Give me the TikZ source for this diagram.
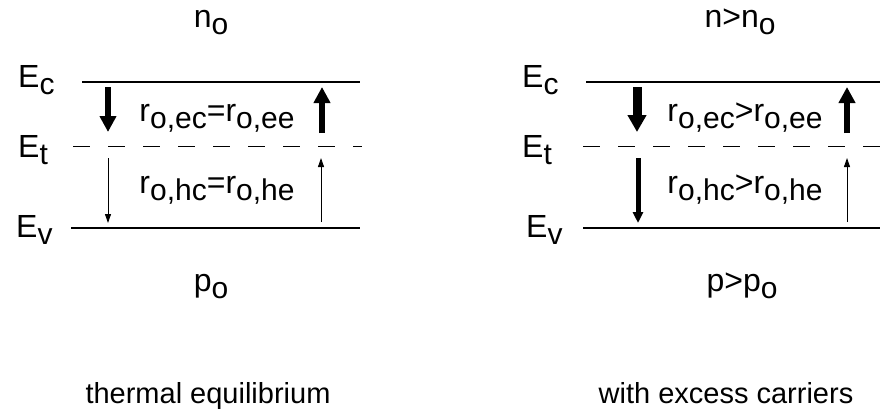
\documentclass[tikz,border=0pt]{standalone}
\usepackage{fontspec}
\setmainfont{Liberation Sans}
\usetikzlibrary{arrows.meta}
\newcommand\sbx[1]{\raisebox{-7pt}{\fontsize{30}{30}\selectfont #1}}
\begin{document}
\begin{tikzpicture}[x=1pt,y=-1pt,
  lbl/.style={font=\fontsize{32}{32}\selectfont, inner sep=0pt, anchor=base},
  lbw/.style={lbl, anchor=base west},
  captext/.style={font=\fontsize{29}{29}\selectfont, inner sep=0pt, anchor=base},
  lvl/.style={line width=1.4pt},
  trap/.style={line width=1pt, dash pattern=on 17pt off 18pt},
  bigarr/.style={line width=6.5pt, -{Triangle[width=16pt,length=16pt]}},
  fatarr/.style={line width=9pt, -{Triangle[width=18pt,length=17pt]}},
  midarr/.style={line width=5pt, -{Triangle[width=10pt,length=11pt]}},
  thinarr/.style={line width=0.9pt, -{Triangle[width=6pt,length=9pt]}}
]
\useasboundingbox (0,0) rectangle (880,412);

% ---------- left: thermal equilibrium ----------
\node[lbl] (nL) at (211,28) {n\sbx{o}};
\node[lbw] (EcL) at (18,87) {E\sbx{c}};
\node[lbw] (EtL) at (18,157) {E\sbx{t}};
\node[lbw] (EvL) at (16,237) {E\sbx{v}};
\node[lbl] (rL1) at (217,121) {r\sbx{o,ec}=r\sbx{o,ee}};
\node[lbl] (rL2) at (217,193) {r\sbx{o,hc}=r\sbx{o,he}};
\node[lbl] (pL) at (211,291) {p\sbx{o}};
\node[captext] (tL) at (208,403) {thermal equilibrium};

\coordinate (cL1) at (82,82);  \coordinate (cL2) at (360,82);
\coordinate (tL1) at (73,146); \coordinate (tL2) at (362,146);
\coordinate (vL1) at (71,228); \coordinate (vL2) at (360,228);
\draw[lvl] (cL1) -- (cL2);
\draw[trap] (tL1) -- (tL2);
\draw[lvl] (vL1) -- (vL2);

\coordinate (aL1s) at (108,87);  \coordinate (aL1e) at (108,132);
\coordinate (aL2s) at (322,133); \coordinate (aL2e) at (322,87);
\coordinate (aL3s) at (108,158); \coordinate (aL3e) at (108,223);
\coordinate (aL4s) at (321,222); \coordinate (aL4e) at (321,158);
\draw[bigarr] (aL1s) -- (aL1e);
\draw[bigarr] (aL2s) -- (aL2e);
\draw[thinarr] (aL3s) -- (aL3e);
\draw[thinarr] (aL4s) -- (aL4e);

% ---------- right: with excess carriers ----------
\node[lbl] (nR) at (740,28) {n>n\sbx{o}};
\node[lbw] (EcR) at (522,87) {E\sbx{c}};
\node[lbw] (EtR) at (522,157) {E\sbx{t}};
\node[lbw] (EvR) at (526,237) {E\sbx{v}};
\node[lbl] (rR1) at (745,121) {r\sbx{o,ec}>r\sbx{o,ee}};
\node[lbl] (rR2) at (745,193) {r\sbx{o,hc}>r\sbx{o,he}};
\node[lbl] (pR) at (742,291) {p>p\sbx{o}};
\node[captext] (tR) at (726,403) {with excess carriers};

\coordinate (cR1) at (586,82);  \coordinate (cR2) at (880,82);
\coordinate (tR1) at (583,146); \coordinate (tR2) at (880,146);
\coordinate (vR1) at (583,228); \coordinate (vR2) at (880,228);
\draw[lvl] (cR1) -- (cR2);
\draw[trap] (tR1) -- (tR2);
\draw[lvl] (vR1) -- (vR2);

\coordinate (aR1s) at (637,87);  \coordinate (aR1e) at (637,132);
\coordinate (aR2s) at (847,133); \coordinate (aR2e) at (847,87);
\coordinate (aR3s) at (638,158); \coordinate (aR3e) at (638,223);
\coordinate (aR4s) at (847,222); \coordinate (aR4e) at (847,158);
\draw[fatarr] (aR1s) -- (aR1e);
\draw[bigarr] (aR2s) -- (aR2e);
\draw[midarr] (aR3s) -- (aR3e);
\draw[thinarr] (aR4s) -- (aR4e);
\end{tikzpicture}
\end{document}
